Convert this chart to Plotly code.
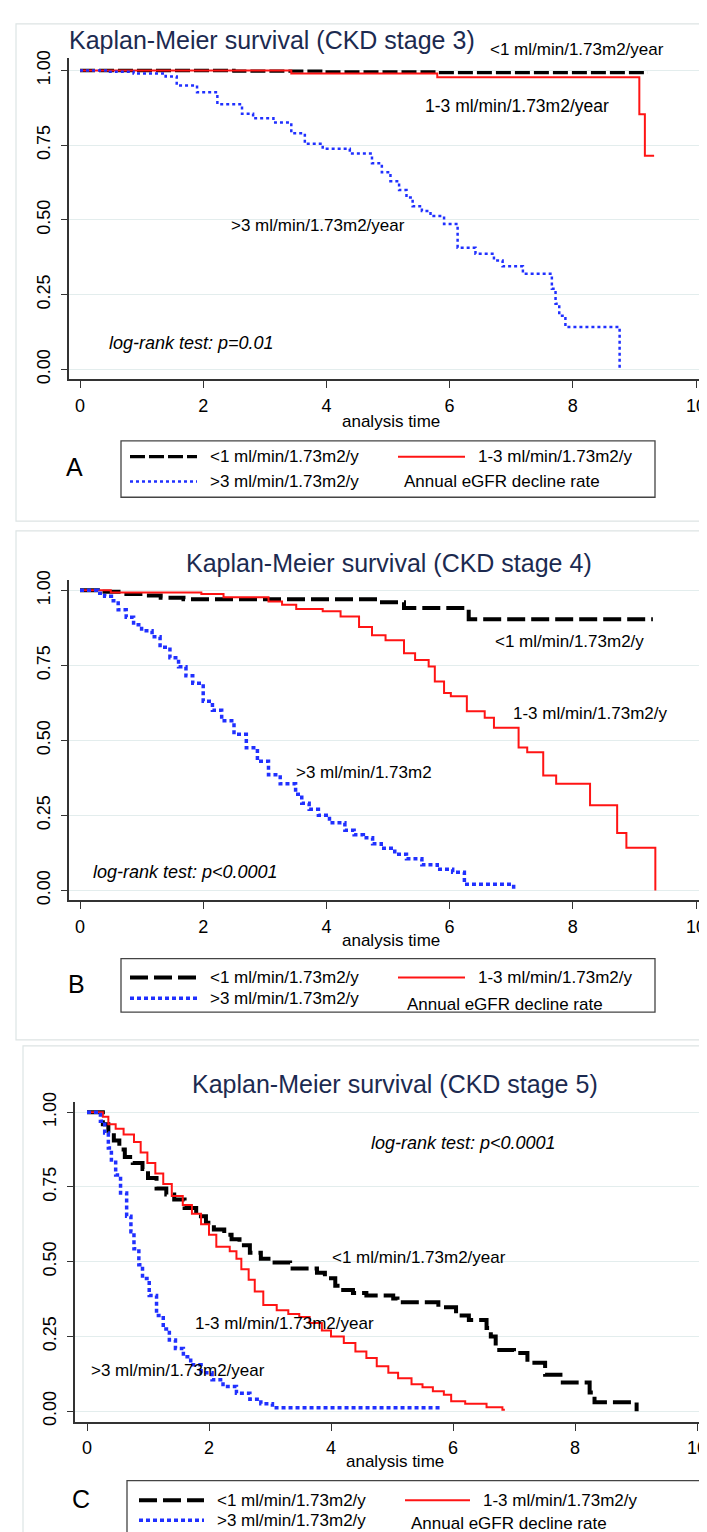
import plotly.graph_objects as go

W, H = 707, 1532

# ---------------- data ----------------
xticks = [0, 2, 4, 6, 8, 10]
yticks = [0, 0.25, 0.5, 0.75, 1.0]
ytick_labels = ["0.00", "0.25", "0.50", "0.75", "1.00"]

legend_names = ["&lt;1 ml/min/1.73m2/y", "1-3 ml/min/1.73m2/y", "&gt;3 ml/min/1.73m2/y"]
legend_note = "Annual eGFR decline rate"

titles = ["Kaplan-Meier survival (CKD stage 3)",
          "Kaplan-Meier survival (CKD stage 4)",
          "Kaplan-Meier survival (CKD stage 5)"]
panel_letters = ["A", "B", "C"]
logrank = ["log-rank test: p=0.01", "log-rank test: p&lt;0.0001", "log-rank test: p&lt;0.0001"]

# Panel A (CKD stage 3)
a_lt1_t = [0, 2.5, 3.94, 5.8, 9.22]
a_lt1_s = [1.0, 0.998, 0.995, 0.993, 0.993]
a_mid_t = [0, 3.43, 5.8, 9.08, 9.17, 9.32]
a_mid_s = [1.0, 0.99, 0.977, 0.854, 0.715, 0.715]
a_gt3_t = [0, 0.45, 0.87, 1.39, 1.57, 1.9, 2.23, 2.63, 2.81, 3.14, 3.43, 3.65, 3.94, 4.38,
           4.74, 4.9, 5.04, 5.18, 5.3, 5.4, 5.55, 5.69, 5.91, 6.13, 6.42, 6.72, 6.86, 7.19,
           7.66, 7.72, 7.78, 7.88, 8.76]
a_gt3_s = [1.0, 0.996, 0.99, 0.98, 0.95, 0.927, 0.887, 0.855, 0.84, 0.826, 0.79, 0.755, 0.738,
           0.722, 0.69, 0.66, 0.63, 0.6, 0.575, 0.546, 0.53, 0.513, 0.487, 0.407, 0.387, 0.365,
           0.345, 0.32, 0.27, 0.22, 0.18, 0.142, 0.0]

# Panel B (CKD stage 4)
b_lt1_t = [0, 0.29, 0.7, 1.02, 1.31, 1.68, 4.85, 5.26, 6.31, 9.30]
b_lt1_s = [1.0, 0.995, 0.988, 0.983, 0.975, 0.970, 0.960, 0.941, 0.904, 0.904]
b_mid_t = [0, 0.5, 1.97, 2.33, 3.06, 3.28, 3.51, 3.94, 4.23, 4.53, 4.74, 4.96, 5.26, 5.44,
           5.66, 5.76, 5.91, 6.02, 6.28, 6.57, 6.72, 7.12, 7.26, 7.52, 7.73, 8.28, 8.72, 8.87, 9.34]
b_mid_s = [1.0, 0.993, 0.988, 0.977, 0.963, 0.952, 0.938, 0.93, 0.913, 0.878, 0.85, 0.834,
           0.79, 0.768, 0.746, 0.696, 0.658, 0.647, 0.597, 0.575, 0.542, 0.476, 0.46, 0.383,
           0.355, 0.284, 0.191, 0.142, 0.0]
b_gt3_t = [0, 0.29, 0.4, 0.51, 0.62, 0.75, 0.87, 1.0, 1.17, 1.3, 1.46, 1.6, 1.72, 1.83, 2.0,
           2.15, 2.3, 2.5, 2.7, 2.88, 3.06, 3.25, 3.5, 3.6, 3.72, 3.87, 4.05, 4.3, 4.45, 4.6,
           4.75, 4.89, 5.11, 5.3, 5.55, 5.8, 6.05, 6.24, 7.04]
b_gt3_s = [1.0, 0.99, 0.98, 0.965, 0.935, 0.91, 0.885, 0.865, 0.845, 0.81, 0.775, 0.745, 0.715,
           0.69, 0.63, 0.6, 0.565, 0.52, 0.475, 0.43, 0.385, 0.355, 0.32, 0.29, 0.27, 0.25,
           0.225, 0.2, 0.185, 0.175, 0.155, 0.14, 0.12, 0.105, 0.085, 0.07, 0.06, 0.02, 0.0]

# Panel C (CKD stage 5)
c_lt1_t = [0, 0.26, 0.35, 0.44, 0.53, 0.62, 0.75, 0.91, 1.0, 1.14, 1.3, 1.43, 1.6, 1.79, 1.95,
           2.08, 2.25, 2.37, 2.5, 2.67, 2.85, 3.04, 3.33, 3.77, 3.9, 4.07, 4.2, 4.36, 4.58, 5.02,
           5.09, 5.76, 6.05, 6.26, 6.55, 6.62, 6.70, 7.0, 7.22, 7.51, 7.8, 8.24, 8.32, 9.01]
c_lt1_s = [1.0, 0.96, 0.93, 0.905, 0.875, 0.85, 0.83, 0.81, 0.78, 0.745, 0.725, 0.708, 0.68,
           0.652, 0.63, 0.608, 0.59, 0.575, 0.555, 0.53, 0.51, 0.497, 0.477, 0.463, 0.445, 0.42,
           0.405, 0.395, 0.387, 0.377, 0.364, 0.348, 0.32, 0.305, 0.278, 0.25, 0.205, 0.195,
           0.162, 0.122, 0.096, 0.063, 0.03, 0.0]
c_mid_t = [0, 0.26, 0.35, 0.47, 0.6, 0.77, 0.88, 0.99, 1.12, 1.25, 1.39, 1.57, 1.72, 1.87, 2.0,
           2.12, 2.34, 2.45, 2.53, 2.65, 2.75, 2.89, 3.11, 3.3, 3.48, 3.65, 3.85, 4.0, 4.21, 4.4,
           4.58, 4.75, 4.94, 5.1, 5.32, 5.5, 5.67, 5.85, 5.97, 6.2, 6.55, 6.81, 6.85]
c_mid_s = [1.0, 0.985, 0.96, 0.945, 0.925, 0.9, 0.865, 0.83, 0.795, 0.76, 0.72, 0.69, 0.66,
           0.625, 0.59, 0.55, 0.535, 0.51, 0.475, 0.44, 0.40, 0.355, 0.338, 0.325, 0.315, 0.295,
           0.27, 0.25, 0.228, 0.2, 0.178, 0.15, 0.129, 0.11, 0.09, 0.08, 0.067, 0.055, 0.033,
           0.025, 0.013, 0.005, 0.005]
c_gt3_t = [0, 0.22, 0.29, 0.35, 0.4, 0.47, 0.55, 0.65, 0.72, 0.77, 0.85, 0.91, 1.02, 1.14, 1.25,
           1.35, 1.45, 1.58, 1.7, 1.87, 2.05, 2.23, 2.45, 2.67, 2.85, 3.04, 5.79]
c_gt3_s = [1.0, 0.97, 0.93, 0.88, 0.84, 0.79, 0.73, 0.652, 0.6, 0.543, 0.49, 0.444, 0.387, 0.32,
           0.275, 0.238, 0.21, 0.182, 0.155, 0.129, 0.105, 0.083, 0.06, 0.04, 0.025, 0.012, 0.01]

# curve label texts
curve_labels = [
    ["&lt;1 ml/min/1.73m2/year", "1-3 ml/min/1.73m2/year", "&gt;3 ml/min/1.73m2/year"],
    ["&lt;1 ml/min/1.73m2/y", "1-3 ml/min/1.73m2/y", "&gt;3 ml/min/1.73m2"],
    ["&lt;1 ml/min/1.73m2/year", "1-3 ml/min/1.73m2/year", "&gt;3 ml/min/1.73m2/year"],
]

# ---------------- style ----------------
FONT = "Liberation Sans, Arial, Helvetica, sans-serif"
NAVY = "#1c2a50"
RED = "#ff1414"
BLUE = "#2030ff"
GRID = "#e3eded"
AX = "#333333"
FRAME = "#dde4e4"

def px(x):
    return x / W

def py(y):
    return 1 - y / H

styles = [
    [dict(color="black", width=3.3, dash="15px,4px"), dict(color=RED, width=2),
     dict(color=BLUE, width=2.5, dash="3px,3px")],
    [dict(color="black", width=4, dash="18px,6px"), dict(color=RED, width=2),
     dict(color=BLUE, width=3.5, dash="4px,3px")],
    [dict(color="black", width=4, dash="18px,6px"), dict(color=RED, width=2),
     dict(color=BLUE, width=3.5, dash="4px,3px")],
]

series = [
    [(a_lt1_t, a_lt1_s), (a_mid_t, a_mid_s), (a_gt3_t, a_gt3_s)],
    [(b_lt1_t, b_lt1_s), (b_mid_t, b_mid_s), (b_gt3_t, b_gt3_s)],
    [(c_lt1_t, c_lt1_s), (c_mid_t, c_mid_s), (c_gt3_t, c_gt3_s)],
]

# panel geometry in pixels
panels = [
    dict(xl=61, xr=706, yt=40, yb=365, x0=72, xu=61.6, y1=53, y0=355,
         frame=(8, 6, 720, 508)),
    dict(xl=61, xr=706, yt=568, yb=891, x0=72, xu=61.6, y1=578, y0=881,
         frame=(8, 518, 720, 1032)),
    dict(xl=67, xr=706, yt=1095, yb=1418, x0=79, xu=61.0, y1=1105, y0=1407,
         frame=(15, 1038, 720, 1560)),
]

fig = go.Figure()
layout = dict(width=W, height=H, margin=dict(l=0, r=0, t=0, b=0),
              paper_bgcolor="white", plot_bgcolor="white", showlegend=False)

annotations = []
shapes = []

def ann(text, x, y, size=17, xanchor="left", color="black"):
    annotations.append(dict(text=text, x=px(x), y=py(y), xref="paper", yref="paper",
                            xanchor=xanchor, yanchor="middle", showarrow=False,
                            font=dict(family=FONT, size=size, color=color)))

for i, p in enumerate(panels):
    sfx = "" if i == 0 else str(i + 1)
    xr0 = (p["xl"] - p["x0"]) / p["xu"]
    xr1 = (p["xr"] - p["x0"]) / p["xu"]
    yu = p["y0"] - p["y1"]
    yr0 = -(p["yb"] - p["y0"]) / yu
    yr1 = 1 + (p["y1"] - p["yt"]) / yu
    layout["xaxis" + sfx] = dict(domain=[px(p["xl"]), px(p["xr"])], range=[xr0, xr1],
                                 anchor="y" + sfx, tickvals=xticks, showgrid=False,
                                 zeroline=False, showline=True, linecolor=AX, linewidth=1.5,
                                 ticks="outside", ticklen=7, tickwidth=1.3, tickcolor=AX,
                                 ticklabeloverflow="allow", ticklabelstandoff=2,
                                 tickfont=dict(family=FONT, size=18, color="black"))
    layout["yaxis" + sfx] = dict(domain=[py(p["yb"]), py(p["yt"])], range=[yr0, yr1],
                                 anchor="x" + sfx, tickvals=yticks, ticktext=ytick_labels,
                                 showgrid=True, gridcolor=GRID, gridwidth=1.2,
                                 zeroline=False, showline=True, linecolor=AX, linewidth=1.5,
                                 ticks="outside", ticklen=6, tickwidth=1.3, tickcolor=AX,
                                 tickangle=-90, ticklabelstandoff=4,
                                 tickfont=dict(family=FONT, size=18, color="black"))
    for j, (t, s) in enumerate(series[i]):
        fig.add_trace(go.Scatter(x=t, y=s, mode="lines", name=legend_names[j],
                                 line=dict(shape="hv", **styles[i][j]),
                                 xaxis="x" + sfx, yaxis="y" + sfx, hoverinfo="skip"))
    fx0, fy0, fx1, fy1 = p["frame"]
    shapes.append(dict(type="rect", xref="paper", yref="paper", x0=px(fx0), x1=px(fx1),
                       y0=py(fy1), y1=py(fy0), line=dict(color=FRAME, width=1.2),
                       layer="below"))

# ---- panel A texts ----
ann(titles[0], 59, 22, size=25, color=NAVY)
ann(curve_labels[0][0], 480, 32, size=17)
ann(curve_labels[0][1], 415, 89, size=17.5)
ann(curve_labels[0][2], 221, 210, size=17)
ann("<i>" + logrank[0] + "</i>", 99, 328, size=18)
ann("analysis time", 383, 407, size=17, xanchor="center")
ann(panel_letters[0], 56, 453, size=25)

# ---- panel B texts ----
ann(titles[1], 381, 550, size=25, xanchor="center", color=NAVY)
ann(curve_labels[1][0], 485, 630, size=17)
ann(curve_labels[1][1], 503, 702, size=17)
ann(curve_labels[1][2], 286, 762, size=17)
ann("<i>" + logrank[1] + "</i>", 83, 862, size=18)
ann("analysis time", 383, 932, size=17, xanchor="center")
ann(panel_letters[1], 58, 976, size=25)

# ---- panel C texts ----
ann(titles[2], 387, 1077, size=25, xanchor="center", color=NAVY)
ann("<i>" + logrank[2] + "</i>", 361, 1136, size=18)
ann(curve_labels[2][0], 322, 1252, size=17)
ann(curve_labels[2][1], 185, 1318, size=17)
ann(curve_labels[2][2], 81, 1366, size=17)
ann("analysis time", 387, 1458, size=17, xanchor="center")
ann(panel_letters[2], 62, 1496, size=25)

# ---- legends ----
legends = [
    dict(box=(113, 427, 647, 484), r1=443, r2=468, note_y=468, c1=122, c2=390, sw=67, gap=11, note_x=394),
    dict(box=(113, 950, 647, 1004), r1=969, r2=990, note_y=996, c1=122, c2=390, sw=67, gap=11, note_x=397),
    dict(box=(119, 1477, 697, 1560), r1=1497, r2=1517, note_y=1520, c1=131, c2=397, sw=65, gap=11, note_x=401),
]
for i, lg in enumerate(legends):
    bx0, by0, bx1, by1 = lg["box"]
    shapes.append(dict(type="rect", xref="paper", yref="paper", x0=px(bx0), x1=px(bx1),
                       y0=py(by1), y1=py(by0), line=dict(color="#444444", width=1.3),
                       fillcolor="white", layer="below"))
    slots = [(lg["c1"], lg["r1"]), (lg["c2"], lg["r1"]), (lg["c1"], lg["r2"])]
    for j, (cx, cy) in enumerate(slots):
        st = styles[i][j]
        shapes.append(dict(type="line", xref="paper", yref="paper",
                           x0=px(cx), x1=px(cx + lg["sw"]), y0=py(cy), y1=py(cy),
                           line=dict(color=st["color"], width=st["width"],
                                     dash=st.get("dash", "solid"))))
        ann(legend_names[j], cx + lg["sw"] + lg["gap"], cy, size=17)
    ann(legend_note, lg["note_x"], lg["note_y"], size=17)

layout["annotations"] = annotations
layout["shapes"] = shapes
fig.update_layout(**layout)
fig.write_html("out.html")
